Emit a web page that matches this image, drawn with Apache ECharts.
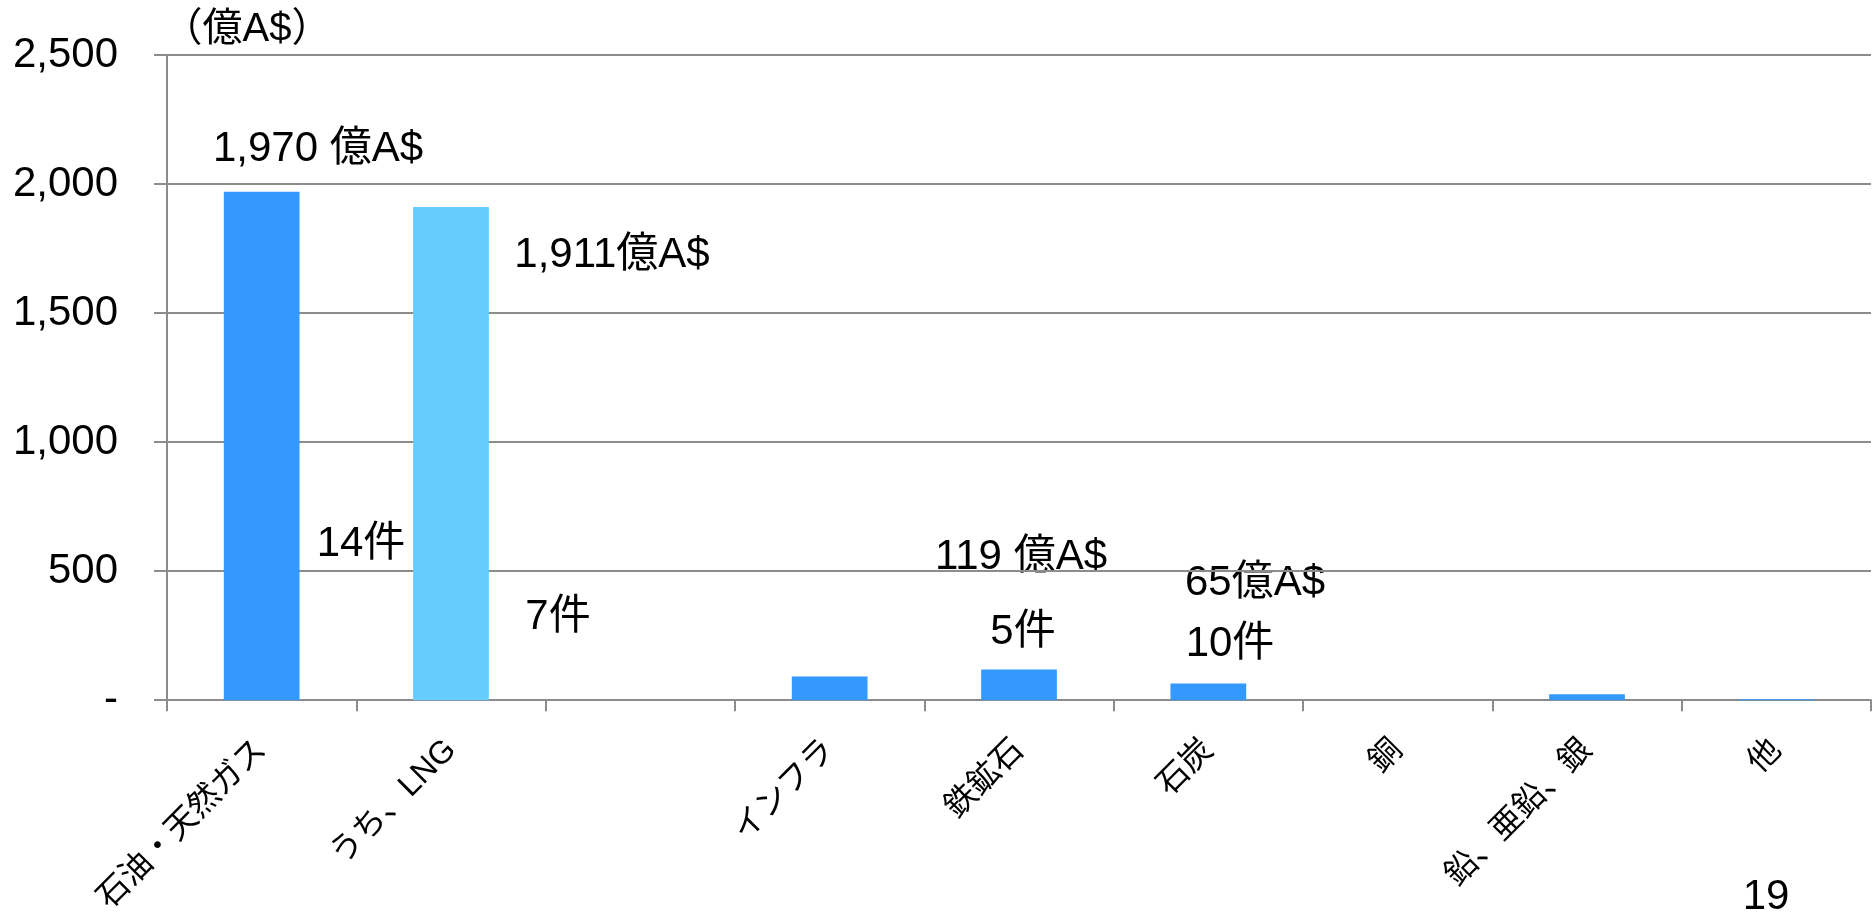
<!DOCTYPE html>
<html>
<head>
<meta charset="utf-8">
<script src="https://cdn.jsdelivr.net/npm/echarts@6/dist/echarts.min.js"></script>
<style>
html,body{margin:0;padding:0;background:#fff;}
#chart{width:1874px;height:917px;}
</style>
</head>
<body>
<div id="chart"></div>
<script>
// ---- data ----
const categories = ['石油・天然ガス', 'うち、LNG', '', 'インフラ', '鉄鉱石', '石炭', '銅', '鉛、亜鉛、銀', '他'];
const values = [1970, 1911, null, 92, 119, 65, 0, 23, 4];
const yTicks = [0, 500, 1000, 1500, 2000, 2500];
const unitLabel = '（億A$）';
const annotationTexts = ['1,970 億A$', '14件', '1,911億A$', '7件', '119 億A$', '5件', '65億A$', '10件', '19'];

// ---- styling / layout ----
const FONT = '"Liberation Sans", Arial, "Noto Sans CJK JP", sans-serif';
const GRAY = '#8c8c8c';
const annotationPos = [
  [318, 149], [361, 544], [612, 255], [558, 617],
  [1021, 557], [1023, 632], [1255, 583], [1230, 644], [1766, 897]
];

const chart = echarts.init(document.getElementById('chart'), null, {renderer: 'canvas'});

const graphics = [{
  type: 'text', x: 247, y: 30,
  style: {text: unitLabel, font: '40px ' + FONT, fill: '#000', textAlign: 'center', textVerticalAlign: 'middle'}
}];
annotationTexts.forEach((t, i) => {
  graphics.push({
    type: 'text', x: annotationPos[i][0], y: annotationPos[i][1],
    style: {text: t, font: '42px ' + FONT, fill: '#000', textAlign: 'center', textVerticalAlign: 'middle'}
  });
});

chart.setOption({
  animation: false,
  backgroundColor: '#fff',
  grid: {left: 167, right: 3, top: 55, bottom: 211, containLabel: false},
  xAxis: {
    type: 'category',
    data: categories,
    boundaryGap: true,
    axisLine: {show: true, lineStyle: {color: GRAY, width: 2}},
    axisTick: {show: true, length: 11, alignWithLabel: false, lineStyle: {color: GRAY, width: 2}},
    axisLabel: {
      interval: 0, rotate: 45, margin: 45,
      fontSize: 32, fontFamily: FONT, color: '#000'
    }
  },
  yAxis: {
    type: 'value',
    min: yTicks[0], max: yTicks[yTicks.length - 1], interval: 500,
    axisLine: {show: true, lineStyle: {color: GRAY, width: 2}},
    axisTick: {show: true, length: 13, inside: false, lineStyle: {color: GRAY, width: 2}},
    splitLine: {show: true, lineStyle: {color: GRAY, width: 2}},
    axisLabel: {
      margin: 49, fontSize: 42, fontFamily: FONT, color: '#000',
      formatter: v => v === 0 ? '-' : v.toLocaleString('en-US')
    }
  },
  series: [{
    type: 'bar',
    data: values,
    barWidth: '40%',
    itemStyle: {
      color: p => categories[p.dataIndex] === 'うち、LNG' ? '#66CCFF' : '#3399FF'
    }
  }],
  graphic: graphics
});
</script>
</body>
</html>
